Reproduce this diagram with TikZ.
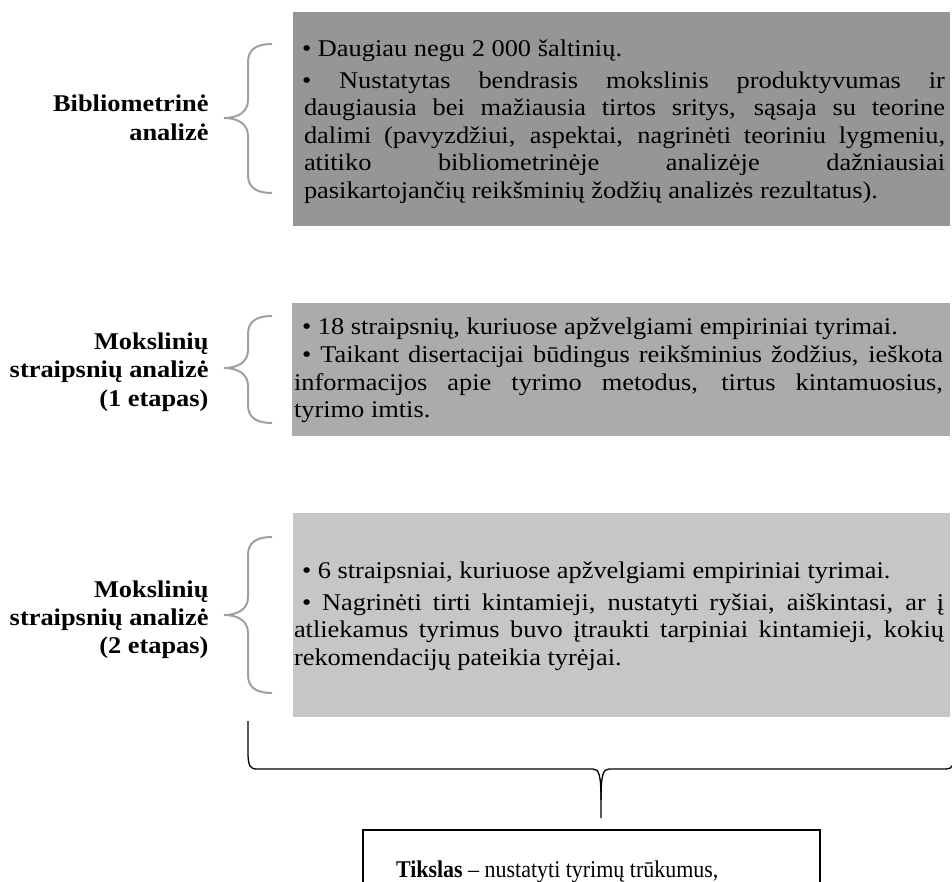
\documentclass[tikz,border=0pt]{standalone}
\usepackage{fontspec}
\setmainfont{Liberation Serif}[FakeStretch=1.1]
\newfontfamily\goalfont{Liberation Serif}[FakeStretch=0.915]
\definecolor{panelA}{RGB}{150,150,150}
\definecolor{panelB}{RGB}{171,171,171}
\definecolor{panelC}{RGB}{198,198,198}
\definecolor{bracegray}{RGB}{160,160,160}
% line helpers: justified line, natural line, right-aligned line
\newlength\tw
\newcommand\jl[2][0pt]{\hbox to \tw{\spaceskip=0.25em plus 1fil\relax\hskip#1#2}}
\newcommand\nl[2][0pt]{\hbox{\hskip#1#2}}
\newcommand\rl[1]{\hbox to 0pt{\hss#1}}
% curly side brace: top y, tip y, bottom y
\newcommand\sidebrace[3]{%
  \draw[gbrace] (272,#1) .. controls (257,#1) and (248,#1+5) .. (248,#1+18)
    -- (248,#2-18) .. controls (248,#2-6) and (238,#2) .. (224,#2)
    .. controls (238,#2) and (248,#2+6) .. (248,#2+18)
    -- (248,#3-18) .. controls (248,#3-5) and (257,#3) .. (272,#3);}
\begin{document}
\fontsize{24}{27.5}\selectfont
\begin{tikzpicture}[x=1pt,y=-1pt,
  panel/.style={inner sep=0, outer sep=0, anchor=north west},
  txt/.style={inner sep=0, outer sep=0, anchor=base west},
  lbl/.style={inner sep=0, outer sep=0, anchor=base east},
  gbrace/.style={draw=bracegray, line width=2pt},
  kbrace/.style={draw=black, line width=1.3pt}]
\useasboundingbox (0,0) rectangle (952,881);
\clip (0,0) rectangle (952,881);

% panels
\node[panel, fill=panelA, minimum width=657, minimum height=214] (p1) at (293,12) {};
\node[panel, fill=panelB, minimum width=658, minimum height=133] (p2) at (292,303) {};
\node[panel, fill=panelC, minimum width=657, minimum height=204] (p3) at (293,513) {};

% panel texts
\node[txt] (t1) at (302,56) {\tw=643pt\vtop{%
  \nl{• Daugiau negu 2 000 šaltinių.}\vskip4.5pt
  \jl{• Nustatytas bendrasis mokslinis produktyvumas ir}
  \jl[2pt]{daugiausia bei mažiausia tirtos sritys, sąsaja su teorine}
  \jl[2pt]{dalimi (pavyzdžiui, aspektai, nagrinėti teoriniu lygmeniu,}
  \jl[2pt]{atitiko bibliometrinėje analizėje dažniausiai}
  \nl[2pt]{pasikartojančių reikšminių žodžių analizės rezultatus).}}};

\node[txt] (t2) at (302,334) {\tw=641pt\vtop{%
  \nl{• 18 straipsnių, kuriuose apžvelgiami empiriniai tyrimai.}\vskip1pt
  \jl{• Taikant disertacijai būdingus reikšminius žodžius, ieškota}
  \jl[-8pt]{informacijos apie tyrimo metodus, tirtus kintamuosius,}
  \nl[-8pt]{tyrimo imtis.}}};

\node[txt] (t3) at (302,578) {\tw=642pt\vtop{%
  \nl{• 6 straipsniai, kuriuose apžvelgiami empiriniai tyrimai.}\vskip4.5pt
  \jl{• Nagrinėti tirti kintamieji, nustatyti ryšiai, aiškintasi, ar į}
  \jl[-8pt]{atliekamus tyrimus buvo įtraukti tarpiniai kintamieji, kokių}
  \nl[-8pt]{rekomendacijų pateikia tyrėjai.}}};

% stage labels
\node[lbl] (l1) at (209,111) {\bfseries\vtop{\baselineskip=29pt
  \rl{Bibliometrinė}\rl{analizė}}};
\node[lbl] (l2) at (209,349) {\bfseries\vtop{\baselineskip=28.5pt
  \rl{Mokslinių}\rl{straipsnių analizė}\rl{(1 etapas)}}};
\node[lbl] (l3) at (209,597) {\bfseries\vtop{\baselineskip=28pt
  \rl{Mokslinių}\rl{straipsnių analizė}\rl{(2 etapas)}}};

% side braces
\sidebrace{44}{118}{193}
\sidebrace{316}{368}{423}
\sidebrace{537}{615}{693}

% goal box and the brace gathering the three stages
\node[panel, draw=black, line width=1.5pt, minimum width=457, minimum height=80] (goalbox) at (363,830) {};
\node[txt] (goal) at (396,877) {\goalfont\textbf{Tikslas} – nustatyti tyrimų trūkumus,};
\coordinate (bl) at (248,721);
\coordinate (br) at (954,721);
\coordinate (btip) at (601,818);
\draw[kbrace] (bl) -- (248,752) .. controls (248,766) and (250,769) .. (257,769)
  -- (593,769) .. controls (599,769) and (601,775) .. (601,800) -- (btip);
\draw[kbrace] (br) -- (954,752) .. controls (954,766) and (952,769) .. (946,769)
  -- (609,769) .. controls (603,769) and (601,775) .. (601,800);
\end{tikzpicture}
\end{document}
